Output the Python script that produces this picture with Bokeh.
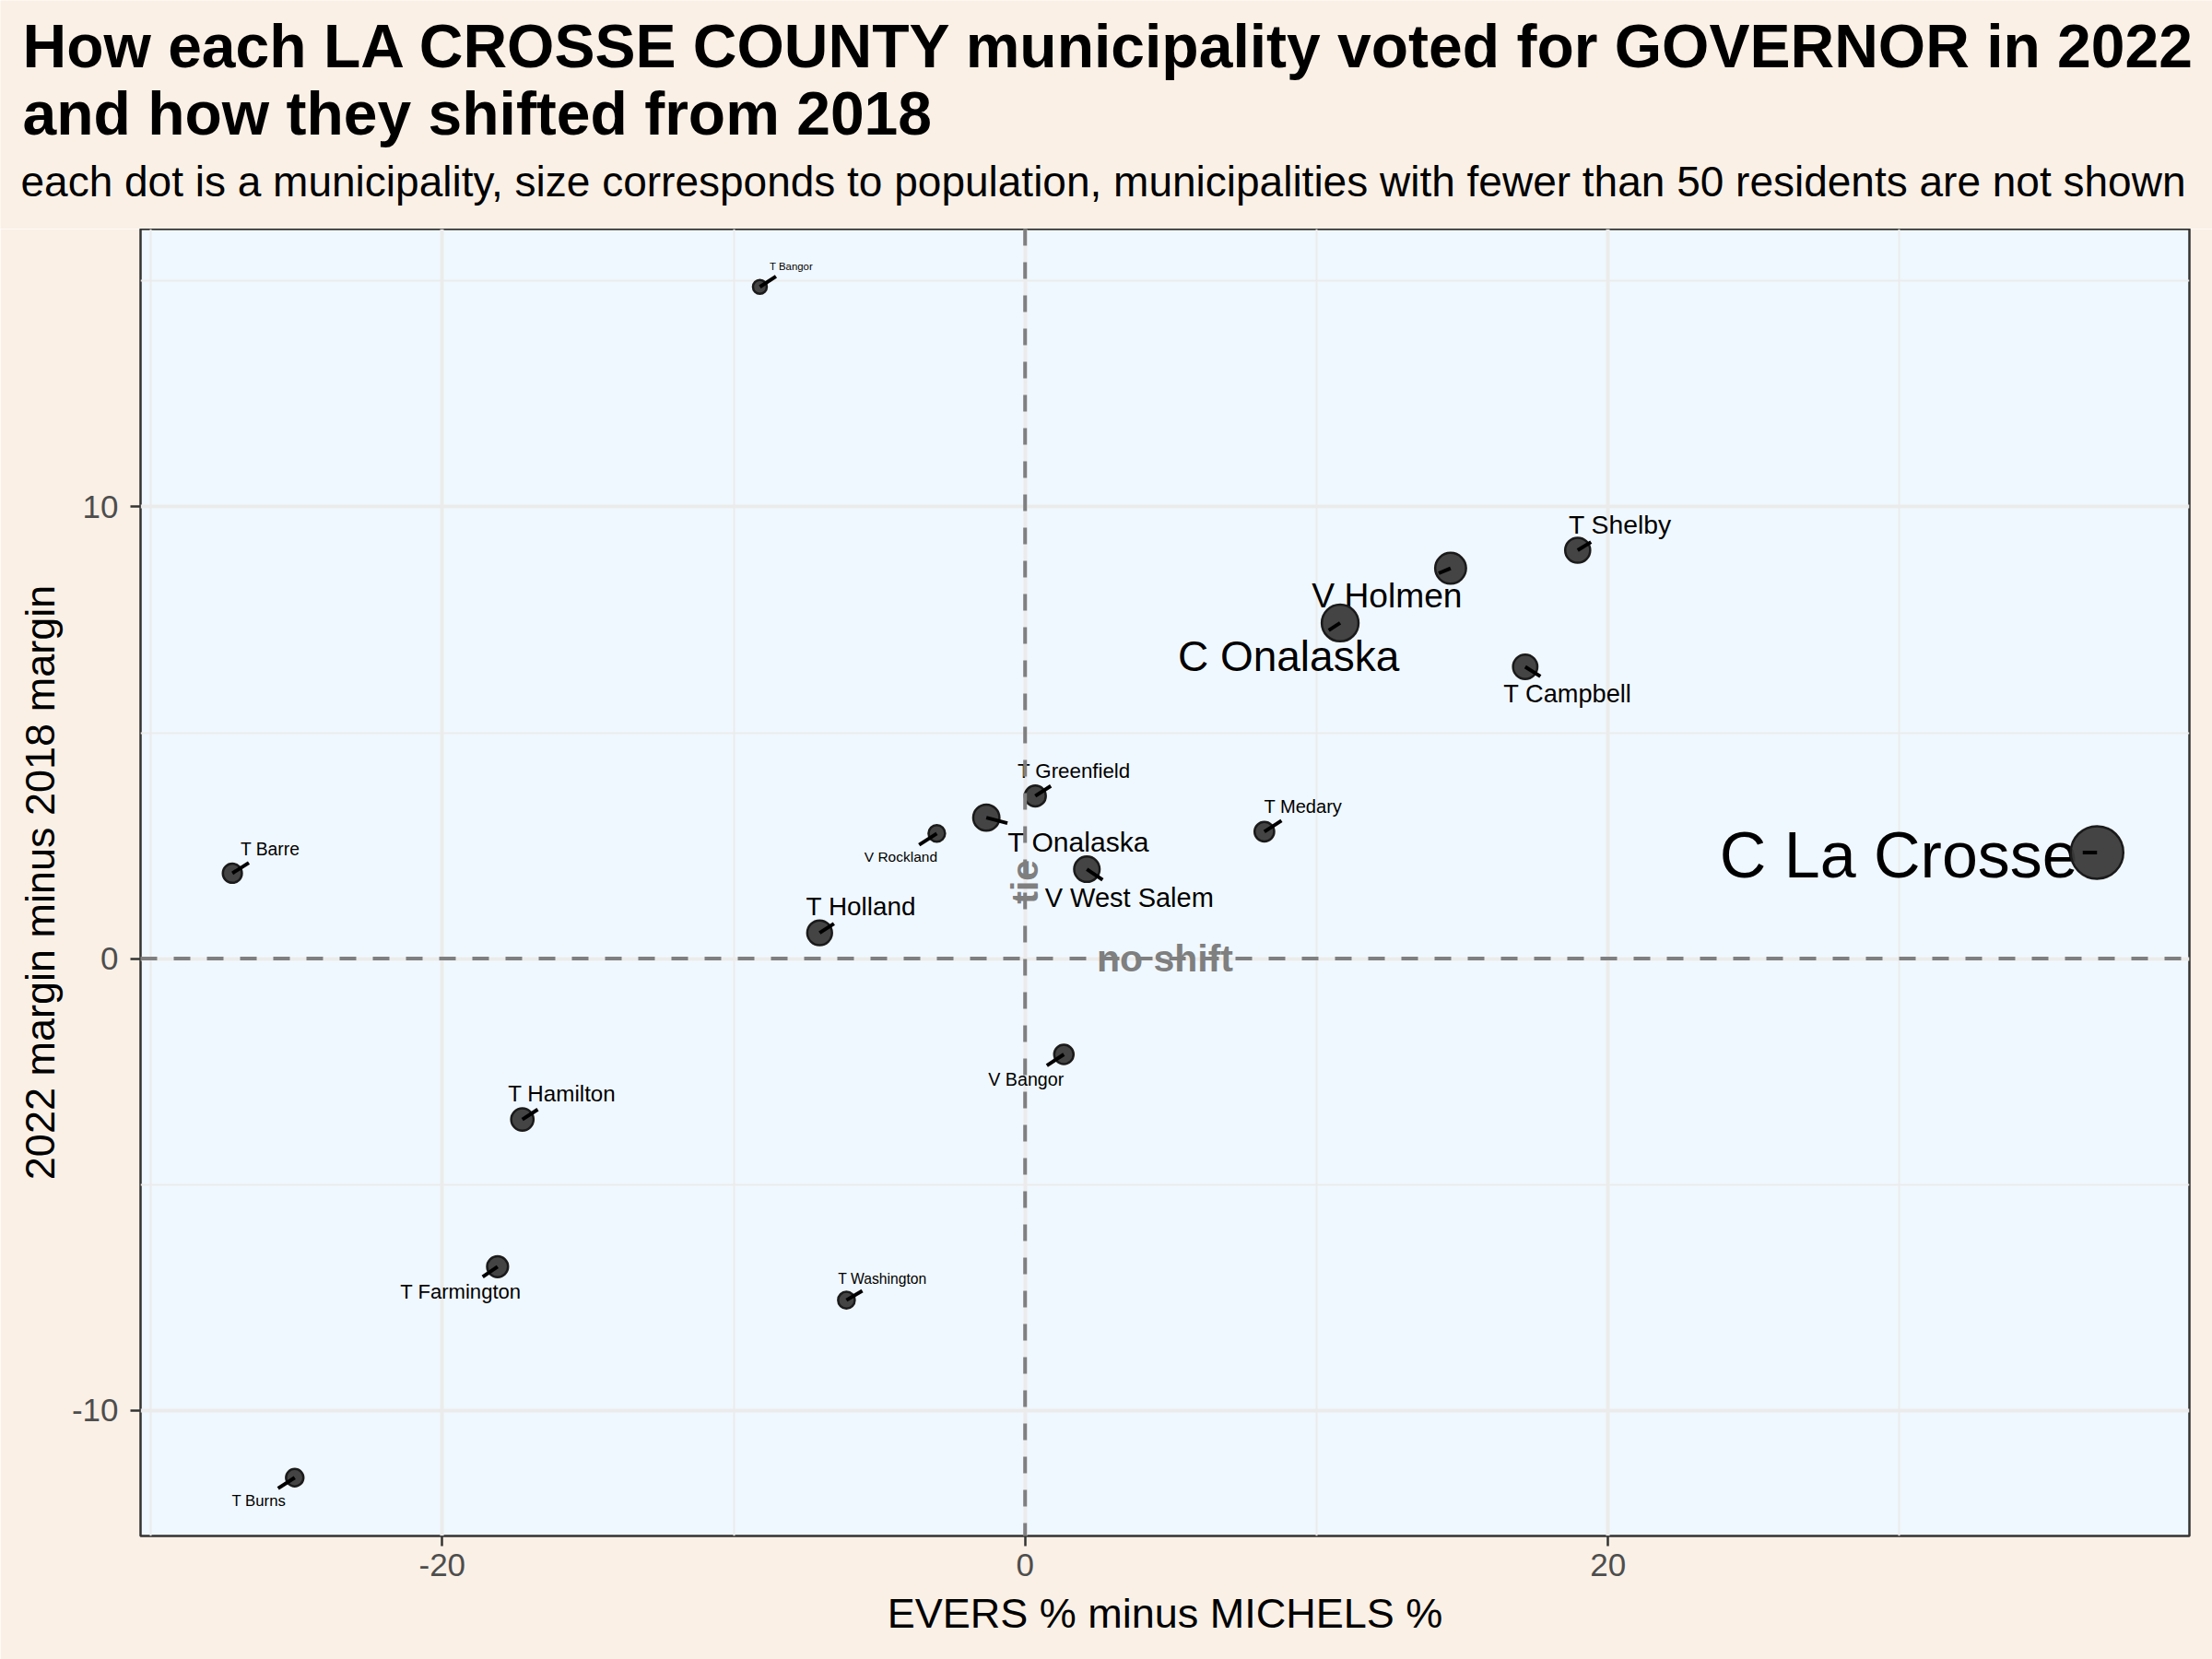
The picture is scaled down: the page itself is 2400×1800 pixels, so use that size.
import math
from bokeh.plotting import figure
from bokeh.layouts import column
from bokeh.models import Range1d, FixedTicker, Span, ColumnDataSource
from bokeh.embed import file_html
from bokeh.resources import INLINE
from bokeh.core.properties import value

# ---------------- data ----------------
names = ["C La Crosse", "C Onalaska", "V Holmen", "T Onalaska", "V West Salem",
         "T Holland", "T Shelby", "T Campbell", "T Hamilton", "T Farmington",
         "T Greenfield", "T Medary", "V Bangor", "T Barre", "T Burns",
         "V Rockland", "T Washington", "T Bangor"]
margin_2022 = [36.78, 10.81, 14.60, -1.33, 2.12, -7.05, 18.96, 17.16, -17.25,
               -18.10, 0.35, 8.21, 1.33, -27.20, -25.06, -3.03, -6.13, -9.10]
shift_from_2018 = [2.35, 7.43, 8.64, 3.12, 1.98, 0.57, 9.04, 6.46, -3.56,
                   -6.82, 3.60, 2.81, -2.12, 1.89, -11.49, 2.77, -7.56, 14.87]
population = [52680, 18803, 10661, 5900, 5280, 4750, 4950, 4400, 3100, 2350,
              2400, 1750, 1650, 1550, 1050, 850, 880, 600]

x_ticks = [-20, 0, 20]
x_tick_labels = ["-20", "0", "20"]
x_minor = [-30, -10, 10, 30]
y_ticks = [-10, 0, 10]
y_tick_labels = ["-10", "0", "10"]
y_minor = [-5, 5, 15]

TITLE1 = "How each LA CROSSE COUNTY municipality voted for GOVERNOR in 2022"
TITLE2 = "and how they shifted from 2018"
SUBTITLE = ("each dot is a municipality, size corresponds to population, "
            "municipalities with fewer than 50 residents are not shown")

# ---------------- layout / style ----------------
FONT = "Liberation Sans"
BG_OUT = "#FAF0E6"
BG_PANEL = "#F0F8FF"
W = 2400
HEAD_H = 248
FW, FH = 2223, 1418
X0, X1 = -30.35, 39.95
Y0, Y1 = -12.78, 16.15
SX = FW / (X1 - X0)
SY = FH / (Y1 - Y0)

# label placement (screen px offsets of label centre from the point, +down)
label_offsets = {
    "C La Crosse": (-215, 3), "C Onalaska": (-56, 36), "V Holmen": (-69, 29),
    "T Onalaska": (100, 26), "V West Salem": (46, 31), "T Holland": (45, -29),
    "T Shelby": (46, -28), "T Campbell": (46, 29), "T Hamilton": (43, -28),
    "T Farmington": (-40, 27), "T Greenfield": (42, -27), "T Medary": (42, -27),
    "V Bangor": (-41, 27), "T Barre": (41, -26), "T Burns": (-39, 25),
    "V Rockland": (-39, 25), "T Washington": (39, -23), "T Bangor": (34, -22),
}

# Arial/Liberation Sans advance widths (per 1000 em)
CW = {" ": 278, "B": 667, "C": 722, "F": 611, "G": 778, "H": 722, "L": 556,
      "M": 833, "O": 778, "R": 722, "S": 667, "T": 611, "V": 667, "W": 944,
      "a": 556, "b": 556, "c": 500, "d": 556, "e": 556, "f": 278, "g": 556,
      "h": 556, "i": 222, "k": 500, "l": 222, "m": 833, "n": 556, "o": 556,
      "p": 556, "r": 333, "s": 500, "t": 278, "u": 556, "w": 722, "y": 500}


def text_width(s, fs):
    return sum(CW.get(ch, 556) for ch in s) / 1000.0 * fs


pmin, pmax = min(population), max(population)
norm = [math.sqrt((v - pmin) / (pmax - pmin)) for v in population]
dot_size = [15 + 42 * s for s in norm]
font_px = [11.4 + 58.6 * s for s in norm]

lab_x, lab_y, seg_x1, seg_y1, fsz = [], [], [], [], []
PAD = 5
for nm, x, y, fs in zip(names, margin_2022, shift_from_2018, font_px):
    dx, dy = label_offsets[nm]
    lab_x.append(x + dx / SX)
    lab_y.append(y - dy / SY)
    fsz.append("%.1fpx" % fs)
    hw = text_width(nm, fs) / 2 + PAD
    hh = fs * 0.5 + PAD
    ux, uy = -dx, -dy  # from label centre to point
    s = min(hw / abs(ux) if ux else 1e9, hh / abs(uy) if uy else 1e9)
    if s >= 1:
        ex, ey = 0, 0
    else:
        ex, ey = dx + s * ux, dy + s * uy
    seg_x1.append(x + ex / SX)
    seg_y1.append(y - ey / SY)

src = ColumnDataSource(dict(x=margin_2022, y=shift_from_2018, name=names,
                            size=dot_size, lx=lab_x, ly=lab_y, fs=fsz,
                            sx1=seg_x1, sy1=seg_y1))

# ---------------- header (titles) ----------------
head = figure(width=W, height=HEAD_H, output_backend="svg", toolbar_location=None,
              x_range=Range1d(0, W), y_range=Range1d(HEAD_H, 0),
              x_axis_type=None, y_axis_type=None, min_border=0)
head.frame_align = False
head.grid.visible = False
head.outline_line_color = None
head.background_fill_color = BG_OUT
head.border_fill_color = BG_OUT
head.text(x=[24], y=[49], text=[TITLE1], text_baseline="alphabetic",
          text_align="left", text_font=value(FONT), text_font_size="66px",
          text_font_style="bold", text_color="#000000")
head.text(x=[24], y=[122], text=[TITLE2], text_baseline="alphabetic",
          text_align="left", text_font=value(FONT), text_font_size="66px",
          text_font_style="bold", text_color="#000000")
head.text(x=[22], y=[196], text=[SUBTITLE], text_baseline="alphabetic",
          text_align="left", text_font=value(FONT), text_font_size="46px",
          text_color="#000000")

# ---------------- main plot ----------------
p = figure(frame_width=FW, frame_height=FH, output_backend="svg",
           toolbar_location=None, x_range=Range1d(X0, X1),
           y_range=Range1d(Y0, Y1), min_border_left=152, min_border_right=25,
           min_border_top=0, min_border_bottom=134)
p.frame_align = False
p.background_fill_color = BG_PANEL
p.border_fill_color = BG_OUT
p.outline_line_color = "#333333"
p.outline_line_width = 2.5

p.xaxis.ticker = FixedTicker(ticks=x_ticks, minor_ticks=x_minor)
p.yaxis.ticker = FixedTicker(ticks=y_ticks, minor_ticks=y_minor)
p.xaxis.major_label_overrides = dict(zip(x_ticks, x_tick_labels))
p.yaxis.major_label_overrides = dict(zip(y_ticks, y_tick_labels))
for ax in (p.xaxis, p.yaxis):
    ax.axis_line_color = None
    ax.major_tick_line_color = "#333333"
    ax.major_tick_line_width = 2.5
    ax.major_tick_out = 11
    ax.major_tick_in = 0
    ax.minor_tick_line_color = None
    ax.major_label_text_font = FONT
    ax.major_label_text_font_size = "35px"
    ax.major_label_text_color = "#4D4D4D"
    ax.axis_label_text_font = FONT
    ax.axis_label_text_font_size = "45px"
    ax.axis_label_text_font_style = "normal"
    ax.axis_label_text_color = "#000000"
p.xaxis.axis_label = "EVERS % minus MICHELS %"
p.yaxis.axis_label = "2022 margin minus 2018 margin"
p.xaxis.major_label_standoff = 8
p.yaxis.major_label_standoff = 13
p.xaxis.axis_label_standoff = 12
p.yaxis.axis_label_standoff = 6

for g in (p.xgrid, p.ygrid):
    g.grid_line_color = "#EBEBEB"
    g.grid_line_width = 4
    g.minor_grid_line_color = "#EBEBEB"
    g.minor_grid_line_width = 2

p.add_layout(Span(location=0, dimension="height", line_color="#7F7F7F",
                  line_width=4, line_dash="18 18"))
p.add_layout(Span(location=0, dimension="width", line_color="#7F7F7F",
                  line_width=4, line_dash="18 18"))

p.text(x=[0], y=[1.7], text=["tie"], angle=math.pi / 2, text_align="center",
       text_baseline="middle", text_font=value(FONT), text_font_size="41px",
       text_font_style="bold", text_color="#7F7F7F")
p.text(x=[4.8], y=[0], text=["no shift"], text_align="center",
       text_baseline="middle", text_font=value(FONT), text_font_size="41px",
       text_font_style="bold", text_color="#7F7F7F")

p.text(x="lx", y="ly", text="name", source=src, text_align="center",
       text_baseline="middle", text_font=value(FONT), text_font_size="fs",
       text_color="#000000")
p.scatter(x="x", y="y", size="size", source=src, fill_color="#3A3A3A",
          fill_alpha=0.95, line_color="#1A1A1A", line_width=2.5)
p.segment(x0="x", y0="y", x1="sx1", y1="sy1", source=src, line_color="#000000",
          line_width=4)

layout = column(head, p, spacing=0)
open("out.html", "w").write(file_html(layout, INLINE))
